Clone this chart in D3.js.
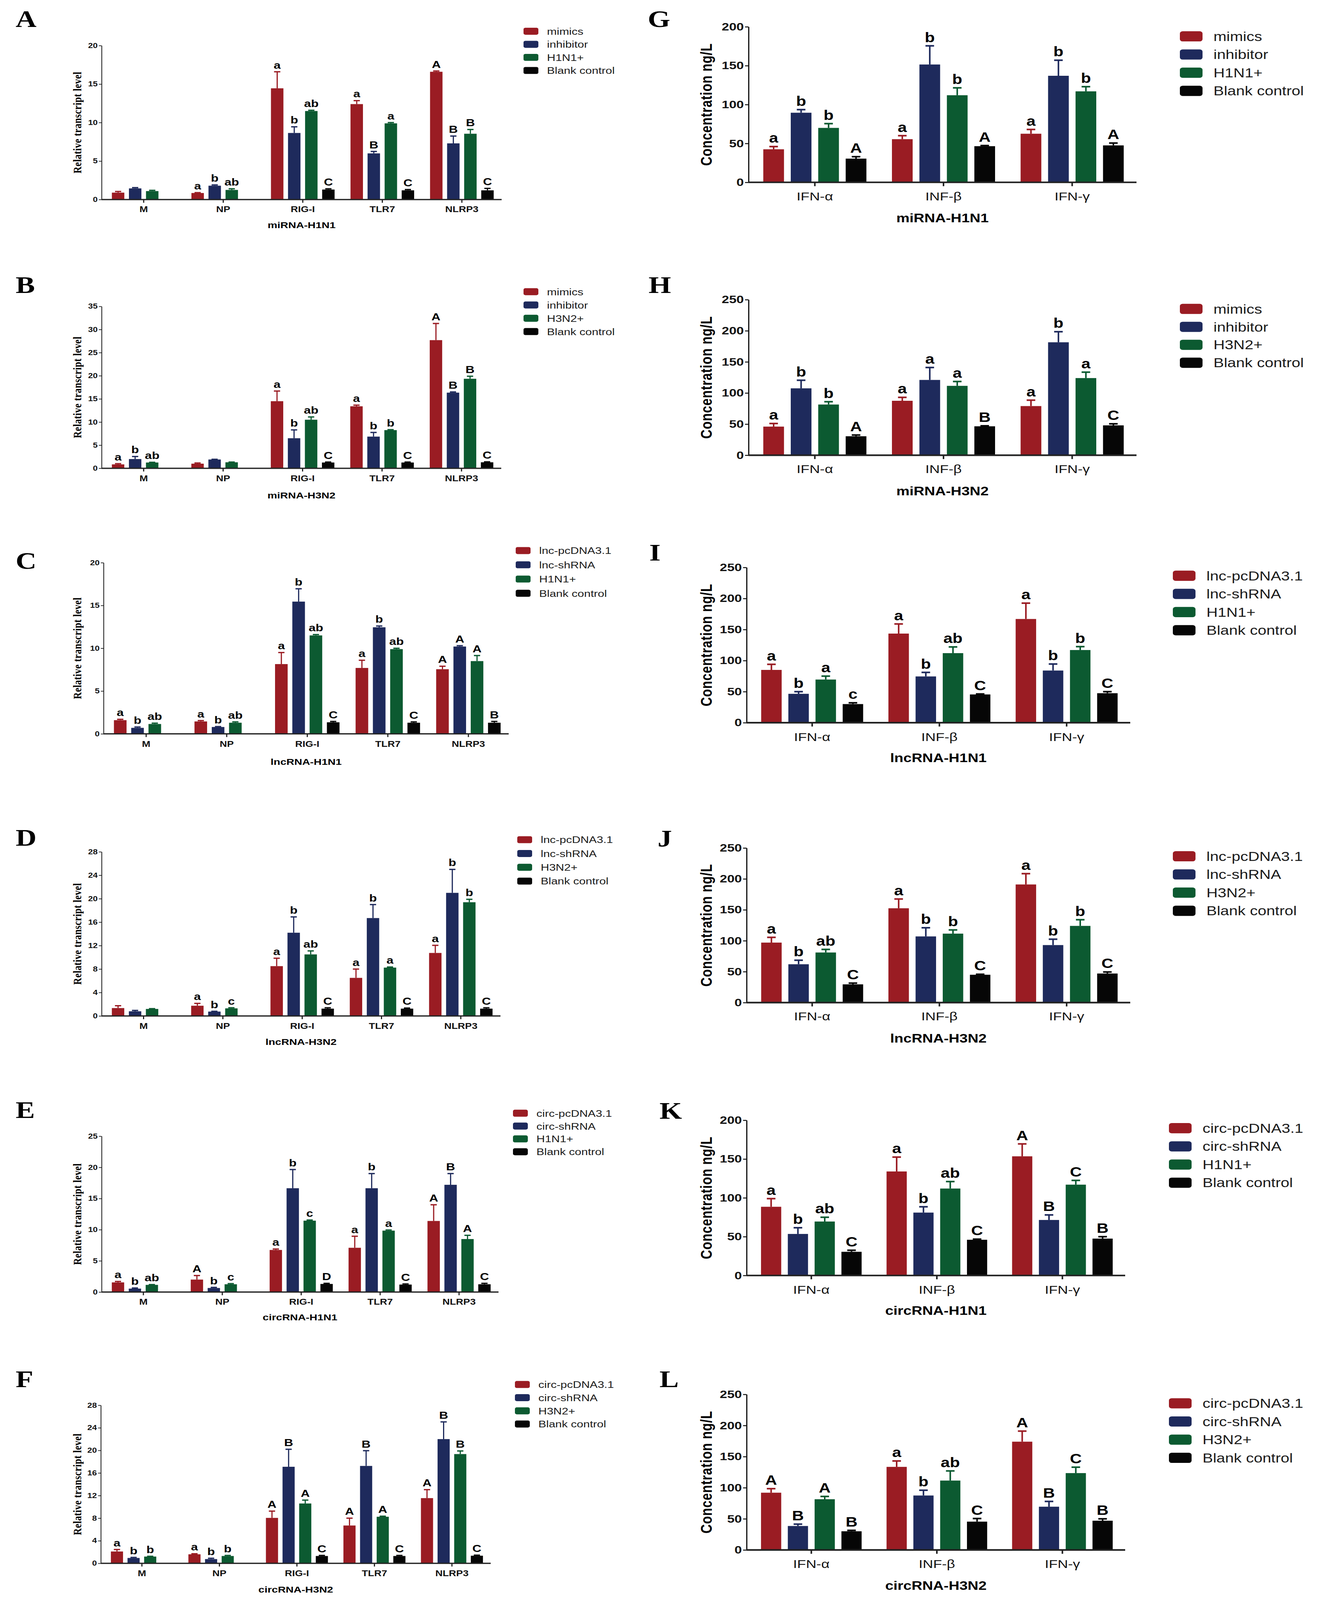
<!DOCTYPE html>
<html>
<head>
<meta charset="utf-8">
<script src="https://cdn.jsdelivr.net/npm/d3@7"></script>
<style>
  html, body { margin: 0; padding: 0; background: #fff; overflow: hidden; }
</style>
</head>
<body>
<div id="fig"></div>
<script>
// categories
const geneCats = ["M", "NP", "RIG-I", "TLR7", "NLRP3"];
const cytoCats = ["IFN-α", "INF-β", "IFN-γ"];

// series names (legend)
const miH1N1 = ["mimics", "inhibitor", "H1N1+", "Blank control"];
const miH3N2 = ["mimics", "inhibitor", "H3N2+", "Blank control"];
const lncH1N1 = ["lnc-pcDNA3.1", "lnc-shRNA", "H1N1+", "Blank control"];
const lncH3N2 = ["lnc-pcDNA3.1", "lnc-shRNA", "H3N2+", "Blank control"];
const circH1N1 = ["circ-pcDNA3.1", "circ-shRNA", "H1N1+", "Blank control"];
const circH3N2 = ["circ-pcDNA3.1", "circ-shRNA", "H3N2+", "Blank control"];

// y tick labels
const ticks20 = [0, 5, 10, 15, 20];
const ticks25 = [0, 5, 10, 15, 20, 25];
const ticks28 = [0, 4, 8, 12, 16, 20, 24, 28];
const ticks35 = [0, 5, 10, 15, 20, 25, 30, 35];
const ticks200 = [0, 50, 100, 150, 200];
const ticks250 = [0, 50, 100, 150, 200, 250];

// rows = series, columns = categories (null = no bar)
const aMean = [[0.9, 0.85, 14.45, 12.4, 16.6], [1.45, 1.8, 8.65, 6.0, 7.3], [1.1, 1.25, 11.5, 9.9, 8.55], [null, null, 1.3, 1.2, 1.2]];
const aErr = [[0.15, 0.05, 2.15, 0.45, 0.1], [0.1, 0.1, 0.8, 0.25, 0.95], [0.1, 0.15, 0.1, 0.1, 0.55], [null, null, 0.1, 0.1, 0.25]];
const aSig = [["", "a", "a", "a", "A"], ["", "b", "b", "B", "B"], ["", "ab", "ab", "a", "B"], ["", "", "C", "C", "C"]];

const bMean = [[0.85, 1.0, 14.5, 13.4, 27.7], [2.0, 1.9, 6.5, 6.85, 16.35], [1.25, 1.3, 10.5, 8.25, 19.35], [null, null, 1.25, 1.25, 1.3]];
const bErr = [[0.15, 0.15, 2.2, 0.25, 3.6], [0.55, 0.05, 1.8, 0.9, 0.15], [0.05, 0.05, 0.6, 0.1, 0.55], [null, null, 0.1, 0.1, 0.1]];
const bSig = [["a", "", "a", "a", "A"], ["b", "", "b", "b", "B"], ["ab", "", "ab", "b", "B"], ["", "", "C", "C", "C"]];

const cMean = [[1.6, 1.45, 8.15, 7.7, 7.55], [0.7, 0.8, 15.45, 12.45, 10.2], [1.15, 1.3, 11.5, 9.9, 8.5], [null, null, 1.35, 1.3, 1.3]];
const cErr = [[0.1, 0.1, 1.35, 0.9, 0.35], [0.1, 0.05, 1.5, 0.15, 0.1], [0.1, 0.1, 0.1, 0.1, 0.65], [null, null, 0.1, 0.1, 0.15]];
const cSig = [["a", "a", "a", "a", "A"], ["b", "b", "b", "b", "A"], ["ab", "ab", "ab", "ab", "A"], ["", "", "C", "C", "B"]];

const dMean = [[1.35, 1.75, 8.5, 6.5, 10.75], [0.8, 0.75, 14.2, 16.7, 21.0], [1.2, 1.3, 10.5, 8.25, 19.4], [null, null, 1.25, 1.25, 1.25]];
const dErr = [[0.4, 0.4, 1.35, 1.5, 1.3], [0.15, 0.05, 2.7, 2.3, 4.0], [0.05, 0.1, 0.6, 0.1, 0.5], [null, null, 0.15, 0.1, 0.15]];
const dSig = [["", "a", "a", "a", "a"], ["", "b", "b", "b", "b"], ["", "c", "ab", "a", "b"], ["", "", "C", "C", "C"]];

const eMean = [[1.55, 2.0, 6.75, 7.1, 11.4], [0.55, 0.65, 16.65, 16.65, 17.2], [1.15, 1.25, 11.45, 9.85, 8.5], [null, null, 1.3, 1.2, 1.25]];
const eErr = [[0.15, 0.65, 0.15, 1.85, 2.6], [0.1, 0.1, 3.0, 2.35, 1.8], [0.05, 0.1, 0.1, 0.1, 0.6], [null, null, 0.1, 0.1, 0.15]];
const eSig = [["a", "A", "a", "a", "A"], ["b", "b", "b", "b", "B"], ["ab", "c", "c", "a", "A"], ["", "", "D", "C", "C"]];

const fMean = [[2.1, 1.6, 8.05, 6.7, 11.55], [0.95, 0.75, 17.1, 17.25, 22.0], [1.2, 1.3, 10.6, 8.25, 19.35], [null, null, 1.3, 1.3, 1.35]];
const fErr = [[0.35, 0.1, 1.2, 1.3, 1.5], [0.1, 0.15, 3.1, 2.7, 3.05], [0.05, 0.1, 0.6, 0.1, 0.55], [null, null, 0.1, 0.1, 0.1]];
const fSig = [["a", "a", "A", "A", "A"], ["b", "b", "B", "B", "B"], ["b", "b", "A", "A", "B"], ["", "", "C", "C", "C"]];

const gMean = [[42.5, 55.5, 62.5], [89.5, 151.5, 137], [70, 112, 117], [30.5, 46.5, 47.5]];
const gErr = [[3.5, 4.5, 5.5], [4, 24, 20], [5.5, 9.5, 6], [2.5, 0.8, 3]];
const gSig = [["a", "a", "a"], ["b", "b", "b"], ["b", "b", "b"], ["A", "A", "A"]];

const hMean = [[46, 87.5, 79], [107.5, 121, 181.5], [81.5, 111.5, 124], [30.5, 46.5, 48]];
const hErr = [[5, 5.5, 9.5], [13, 20, 17], [4.5, 7, 9.5], [2, 0.8, 2.5]];
const hSig = [["a", "a", "a"], ["b", "a", "b"], ["b", "a", "a"], ["A", "B", "C"]];

const iMean = [[85, 143.5, 167], [46.5, 74.5, 84], [69.5, 112, 117], [30, 45.5, 47.5]];
const iErr = [[9, 15.5, 25.5], [3.5, 6.5, 10.5], [5.5, 10, 5.5], [2, 0.8, 2.5]];
const iSig = [["a", "a", "a"], ["b", "b", "b"], ["a", "ab", "b"], ["c", "C", "C"]];

const jMean = [[97, 152.5, 191], [62, 107, 93], [81, 111.5, 124], [29.5, 45, 47]];
const jErr = [[8.5, 15, 17.5], [6.5, 14, 9.5], [5, 6, 10], [2, 0.8, 2.5]];
const jSig = [["a", "a", "a"], ["b", "b", "b"], ["ab", "b", "b"], ["C", "C", "C"]];

const kMean = [[88.5, 134, 153.5], [53.5, 81, 71.5], [69.5, 112, 117], [30.5, 46, 47.5]];
const kErr = [[10.5, 18.5, 16], [8, 7.5, 6.5], [5.5, 9, 5.5], [2, 0.8, 2.5]];
const kSig = [["a", "a", "A"], ["b", "b", "B"], ["ab", "ab", "C"], ["C", "C", "B"]];

const lMean = [[92, 133.5, 174], [38.5, 87.5, 69.5], [81.5, 111.5, 123.5], [30, 45.5, 47]];
const lErr = [[6.5, 9.5, 17], [3, 8.5, 8.5], [4.5, 15.5, 9.5], [1.5, 5, 3]];
const lSig = [["A", "a", "A"], ["B", "b", "B"], ["A", "ab", "C"], ["B", "C", "B"]];

const seriesColors = ["#9a1c23", "#1e2a5c", "#0c5a31", "#060606"];
const SANS = "'Liberation Sans', Arial, sans-serif";
const SERIF = "'Liberation Serif', 'Times New Roman', serif";
const FIG_W = 3371, FIG_H = 5019;

// style of the two columns
const styles = {
    left: {
        tickFs: 22, catFs: 26, catW: "bold", subFs: 28, sigFs: 32, legFs: 30,
        yLabel: "Relative transcript level", yLabFont: SERIF, yLabFs: 30, yLabX: 197,
        swW: 38, swH: 22, textOff: 60, xAxisW: 4, yAxisW: 2,
        errW: 3, capW: 16, tickLen: 10, yTickLen: 7, pi: 0.142, p1: 0.27, bandOff: 6, sigGap: 10
    },
    right: {
        tickFs: 34, catFs: 37, catW: "normal", subFs: 38, sigFs: 42, legFs: 40,
        yLabel: "Concentration ng/L", yLabFont: SANS, yLabFs: 40, yLabX: 1808,
        swW: 58, swH: 32, textOff: 86, xAxisW: 5, yAxisW: 3,
        errW: 4, capW: 22, tickLen: 12, yTickLen: 9, pi: 0.146, p1: 0.246, bandOff: 5, sigGap: 12
    }
};

const panels = [
    { kind: "left", letter: "A", lx: 40, ly: 85, left: 260, right: 1284, yTop: 143, y0: 626, catDy: 30, subDy: 80,
      max: 20, ticks: ticks20, cats: geneCats, names: miH1N1, mean: aMean, err: aErr, sig: aSig,
      title: "miRNA-H1N1", legX: 1340, legY: 98, legDy: 41 },
    { kind: "left", letter: "B", lx: 40, ly: 919, left: 260, right: 1283, yTop: 961, y0: 1469, catDy: 32, subDy: 85,
      max: 35, ticks: ticks35, cats: geneCats, names: miH3N2, mean: bMean, err: bErr, sig: bSig,
      title: "miRNA-H3N2", legX: 1340, legY: 915, legDy: 41.7 },
    { kind: "left", letter: "C", lx: 40, ly: 1784, left: 265, right: 1302, yTop: 1765, y0: 2302, catDy: 32, subDy: 87,
      max: 20, ticks: ticks20, cats: geneCats, names: lncH1N1, mean: cMean, err: cErr, sig: cSig,
      title: "lncRNA-H1N1", legX: 1320, legY: 1727, legDy: 44.7 },
    { kind: "left", letter: "D", lx: 40, ly: 2653, left: 260, right: 1281, yTop: 2672, y0: 3187, catDy: 31, subDy: 81,
      max: 28, ticks: ticks28, cats: geneCats, names: lncH3N2, mean: dMean, err: dErr, sig: dSig,
      title: "lncRNA-H3N2", legX: 1324, legY: 2634, legDy: 43.3 },
    { kind: "left", letter: "E", lx: 40, ly: 3507, left: 260, right: 1276, yTop: 3564, y0: 4053, catDy: 30, subDy: 79,
      max: 25, ticks: ticks25, cats: geneCats, names: circH1N1, mean: eMean, err: eErr, sig: eSig,
      title: "circRNA-H1N1", legX: 1313, legY: 3492, legDy: 40.3 },
    { kind: "left", letter: "F", lx: 40, ly: 4351, left: 258, right: 1256, yTop: 4408, y0: 4904, catDy: 31, subDy: 82,
      max: 28, ticks: ticks28, cats: geneCats, names: circH3N2, mean: fMean, err: fErr, sig: fSig,
      title: "circRNA-H3N2", legX: 1318, legY: 4343, legDy: 41.3 },

    { kind: "right", letter: "G", lx: 1658, ly: 85, left: 1916, right: 2909, yTop: 84, y0: 572, catDy: 44, subDy: 111,
      max: 200, ticks: ticks200, cats: cytoCats, names: miH1N1, mean: gMean, err: gErr, sig: gSig,
      title: "miRNA-H1N1", legX: 3020, legY: 114, legDy: 57 },
    { kind: "right", letter: "H", lx: 1660, ly: 919, left: 1916, right: 2909, yTop: 940, y0: 1428, catDy: 43, subDy: 112,
      max: 250, ticks: ticks250, cats: cytoCats, names: miH3N2, mean: hMean, err: hErr, sig: hSig,
      title: "miRNA-H3N2", legX: 3020, legY: 969, legDy: 56.3 },
    { kind: "right", letter: "I", lx: 1662, ly: 1758, left: 1911, right: 2893, yTop: 1780, y0: 2267, catDy: 45, subDy: 110,
      max: 250, ticks: ticks250, cats: cytoCats, names: lncH1N1, mean: iMean, err: iErr, sig: iSig,
      title: "lncRNA-H1N1", legX: 3002, legY: 1806, legDy: 57 },
    { kind: "right", letter: "J", lx: 1683, ly: 2655, left: 1911, right: 2893, yTop: 2660, y0: 3145, catDy: 43, subDy: 112,
      max: 250, ticks: ticks250, cats: cytoCats, names: lncH3N2, mean: jMean, err: jErr, sig: jSig,
      title: "lncRNA-H3N2", legX: 3002, legY: 2686, legDy: 57 },
    { kind: "right", letter: "K", lx: 1688, ly: 3509, left: 1911, right: 2880, yTop: 3514, y0: 4001, catDy: 45, subDy: 110,
      max: 200, ticks: ticks200, cats: cytoCats, names: circH1N1, mean: kMean, err: kErr, sig: kSig,
      title: "circRNA-H1N1", legX: 2992, legY: 3539, legDy: 57 },
    { kind: "right", letter: "L", lx: 1688, ly: 4351, left: 1911, right: 2880, yTop: 4374, y0: 4862, catDy: 43, subDy: 112,
      max: 250, ticks: ticks250, cats: cytoCats, names: circH3N2, mean: lMean, err: lErr, sig: lSig,
      title: "circRNA-H3N2", legX: 2992, legY: 4402, legDy: 57 }
];

// the real viewport can be shorter than the figure: stretch the figure onto it
const vw = window.innerWidth || FIG_W;
const vh = window.innerHeight || FIG_H;
const svg = d3.select("#fig").append("svg")
    .attr("viewBox", `0 0 ${FIG_W} ${FIG_H}`)
    .attr("preserveAspectRatio", "none")
    .attr("width", vw)
    .attr("height", vh)
    .style("display", "block")
    .style("background", "#fff");

function drawPanel(p) {
    const st = styles[p.kind];
    const g = svg.append("g");

    // scales
    const x0 = d3.scaleBand()
        .domain(p.cats)
        .range([p.left + st.bandOff, p.right])
        .paddingInner(st.pi)
        .paddingOuter(st.pi / 2);
    const x1 = d3.scaleBand()
        .domain(d3.range(p.names.length))
        .range([0, x0.bandwidth()])
        .paddingInner(st.p1)
        .paddingOuter(st.p1 / 2);
    const y = d3.scaleLinear().domain([0, p.max]).range([p.y0, p.yTop]);

    // panel letter
    g.append("text")
        .attr("x", p.lx).attr("y", p.ly)
        .style("font-family", SERIF).style("font-weight", "bold")
        .style("font-size", "74px")
        .text(p.letter);

    // flatten bars
    const bars = [];
    p.mean.forEach((row, s) => row.forEach((v, c) => {
        if (v === null) return;
        bars.push({ s: s, cat: p.cats[c], v: v, e: p.err[s][c], sig: p.sig[s][c] });
    }));

    const barG = g.append("g");
    barG.selectAll("rect").data(bars).enter().append("rect")
        .attr("x", d => x0(d.cat) + x1(d.s))
        .attr("y", d => y(d.v))
        .attr("width", x1.bandwidth())
        .attr("height", d => y(0) - y(d.v))
        .attr("fill", d => seriesColors[d.s]);

    // error bars (upper only)
    const cx = d => x0(d.cat) + x1(d.s) + x1.bandwidth() / 2;
    barG.selectAll("line.err").data(bars).enter().append("line")
        .attr("class", "err")
        .attr("x1", cx).attr("x2", cx)
        .attr("y1", d => y(d.v)).attr("y2", d => y(d.v + d.e))
        .attr("stroke", d => seriesColors[d.s]).attr("stroke-width", st.errW);
    barG.selectAll("line.cap").data(bars).enter().append("line")
        .attr("class", "cap")
        .attr("x1", d => cx(d) - st.capW / 2).attr("x2", d => cx(d) + st.capW / 2)
        .attr("y1", d => y(d.v + d.e)).attr("y2", d => y(d.v + d.e))
        .attr("stroke", d => seriesColors[d.s]).attr("stroke-width", st.errW + 1);

    // significance letters
    barG.selectAll("text.sig").data(bars.filter(d => d.sig)).enter().append("text")
        .attr("class", "sig")
        .attr("x", cx)
        .attr("y", d => y(d.v + d.e) - st.sigGap)
        .attr("text-anchor", "middle")
        .style("font-family", SANS).style("font-weight", "bold")
        .style("font-size", st.sigFs + "px")
        .text(d => d.sig);

    // y axis
    const yAxis = g.append("g")
        .attr("transform", `translate(${p.left},0)`)
        .call(d3.axisLeft(y).tickValues(p.ticks).tickFormat(d3.format("d"))
            .tickSize(st.yTickLen).tickPadding(3).tickSizeOuter(0));
    yAxis.select(".domain").attr("stroke", "#111").attr("stroke-width", st.yAxisW);
    yAxis.selectAll(".tick line").attr("stroke", "#111").attr("stroke-width", st.yAxisW);
    yAxis.selectAll(".tick text")
        .style("font-family", SANS).style("font-weight", "bold")
        .style("font-size", st.tickFs + "px").attr("fill", "#111");

    // x axis
    const xAxis = g.append("g")
        .attr("transform", `translate(0,${p.y0})`)
        .call(d3.axisBottom(x0).tickSize(st.tickLen).tickSizeOuter(0)
            .tickPadding(p.catDy - st.tickLen - 0.36 * st.catFs));
    xAxis.select(".domain")
        .attr("d", `M${p.left},0H${p.right}`)
        .attr("stroke", "#222").attr("stroke-width", st.xAxisW);
    xAxis.selectAll(".tick line").attr("stroke", "#222").attr("stroke-width", st.yAxisW + 1);
    xAxis.selectAll(".tick text")
        .style("font-family", SANS)
        .style("font-weight", st.catW)
        .style("font-size", st.catFs + "px").attr("fill", "#111");

    // y label
    const ymid = (p.yTop + p.y0) / 2;
    g.append("text")
        .attr("transform", `translate(${st.yLabX},${ymid}) rotate(-90)`)
        .attr("text-anchor", "middle")
        .attr("dy", "0.35em")
        .style("font-family", st.yLabFont).style("font-weight", "bold")
        .style("font-size", st.yLabFs + "px")
        .style("letter-spacing", p.kind === "left" ? "0.5px" : "1px")
        .text(st.yLabel);

    // subtitle under the axis
    g.append("text")
        .attr("x", (p.left + p.right) / 2)
        .attr("y", p.y0 + p.subDy)
        .attr("dy", "0.36em")
        .attr("text-anchor", "middle")
        .style("font-family", SANS).style("font-weight", "bold")
        .style("font-size", st.subFs + "px")
        .text(p.title);

    // legend
    const leg = g.append("g").selectAll("g").data(p.names).enter().append("g")
        .attr("transform", (d, i) => `translate(${p.legX},${p.legY + i * p.legDy})`);
    leg.append("rect")
        .attr("x", 0).attr("y", -st.swH / 2)
        .attr("width", st.swW).attr("height", st.swH)
        .attr("rx", st.swH * 0.22)
        .attr("fill", (d, i) => seriesColors[i]);
    leg.append("text")
        .attr("x", st.textOff).attr("y", 0).attr("dy", "0.36em")
        .style("font-family", SANS)
        .style("font-size", st.legFs + "px")
        .attr("fill", "#1a1a1a")
        .text(d => d);
}

panels.forEach(drawPanel);
</script>
</body>
</html>
